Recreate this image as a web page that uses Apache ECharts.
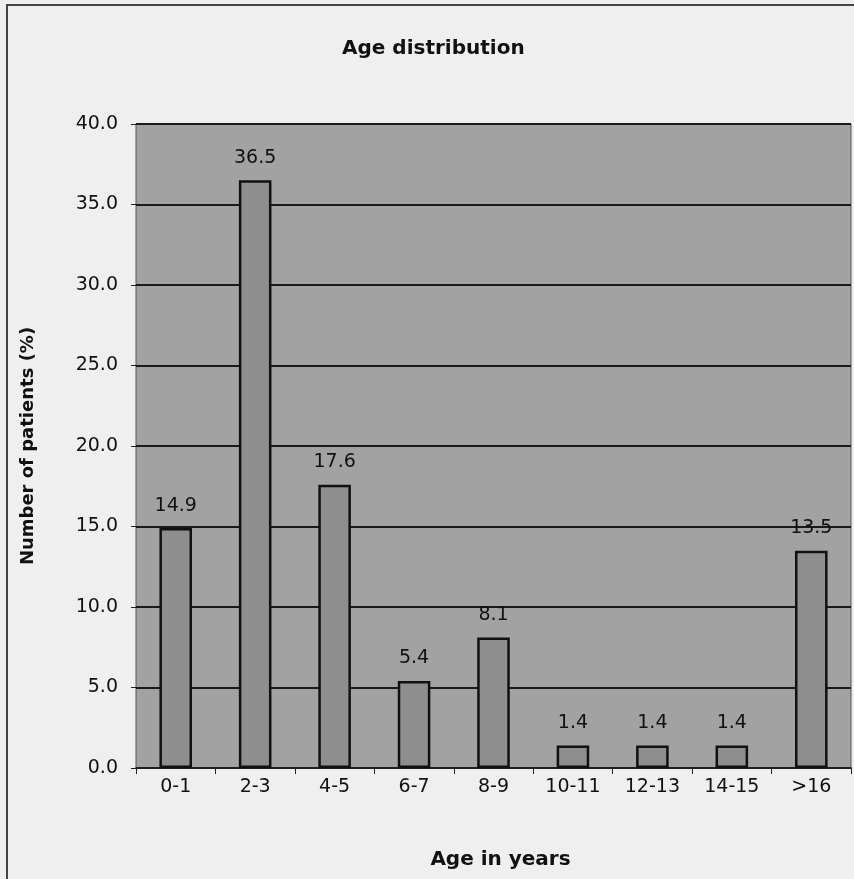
<!DOCTYPE html>
<html>
<head>
<meta charset="utf-8">
<script src="https://cdn.jsdelivr.net/npm/echarts@6/dist/echarts.min.js"></script>
<style>
html,body{margin:0;padding:0;background:#efefef;}
#c{width:854px;height:879px;}
</style>
</head>
<body>
<div id="c"></div>
<script>
const categories = ['0-1','2-3','4-5','6-7','8-9','10-11','12-13','14-15','>16'];
const values = [14.9, 36.5, 17.6, 5.4, 8.1, 1.4, 1.4, 1.4, 13.5];
const yTicks = [0, 5, 10, 15, 20, 25, 30, 35, 40];

const chart = echarts.init(document.getElementById('c'), null, {renderer:'canvas'});
const font = 'DejaVu Sans, Arial, sans-serif';
chart.setOption({
  backgroundColor: '#efefef',
  animation: false,
  title: {
    text: 'Age distribution',
    left: 337, top: 34,
    textStyle: {fontFamily: font, fontSize: 20, fontWeight: 'bold', color: '#111'}
  },
  graphic: [{
    type: 'polyline',
    shape: {points: [[7, 879], [7, 5], [854, 5]]},
    style: {stroke: '#444', lineWidth: 2, fill: null}
  }],
  grid: {
    left: 136, right: 3, top: 124, bottom: 111,
    show: true, backgroundColor: '#a2a2a2', borderColor: '#555', borderWidth: 1
  },
  xAxis: {
    type: 'category',
    data: categories,
    name: 'Age in years',
    nameLocation: 'middle',
    nameGap: 82,
    nameTextStyle: {fontFamily: font, fontSize: 20, fontWeight: 'bold', color: '#111', padding: [0, 0, 0, 14]},
    axisLine: {show: true, lineStyle: {color: '#222', width: 1.5}},
    axisTick: {show: true, length: 6, lineStyle: {color: '#222'}},
    axisLabel: {fontFamily: font, fontSize: 19, color: '#111', margin: 10}
  },
  yAxis: {
    type: 'value',
    min: yTicks[0], max: yTicks[yTicks.length - 1], interval: 5,
    name: 'Number of patients (%)',
    nameLocation: 'middle',
    nameGap: 99,
    nameTextStyle: {fontFamily: font, fontSize: 18, fontWeight: 'bold', color: '#111'},
    axisLine: {show: false},
    axisTick: {show: true, length: 5, lineStyle: {color: '#222'}},
    axisLabel: {fontFamily: font, fontSize: 19, color: '#111', margin: 18,
      formatter: v => v.toFixed(1)},
    splitLine: {show: true, lineStyle: {color: '#1a1a1a', width: 1.8}}
  },
  series: [{
    type: 'bar',
    data: values,
    barWidth: '41%',
    itemStyle: {color: '#8e8e8e', borderColor: '#111', borderWidth: 2.5},
    label: {
      show: true, position: 'top', distance: 13,
      fontFamily: font, fontSize: 19, color: '#111',
      formatter: p => p.value.toFixed(1)
    }
  }]
});
</script>
</body>
</html>
